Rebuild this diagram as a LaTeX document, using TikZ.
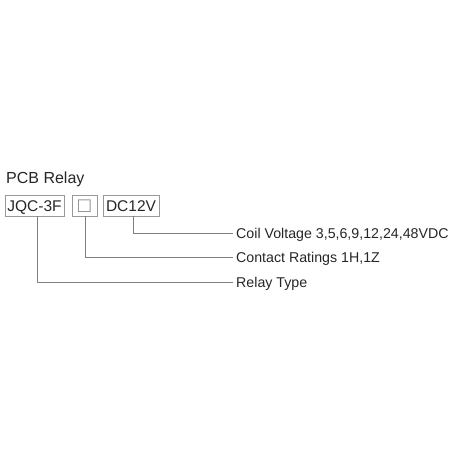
\documentclass[tikz,border=0pt]{standalone}
\usepackage{fontspec}
\setmainfont{Liberation Sans}
\newfontfamily\symfont{DejaVu Sans}
\usepackage{tikz}

\tikzset{
  partbox/.style={draw=black!40, line width=0.8pt, minimum height=21pt, inner sep=0pt,
    text height=11pt, text depth=0pt,
    text=black!85, font=\fontsize{15.5}{18}\selectfont},
  lead/.style={draw=black!50, line width=0.8pt},
  note/.style={anchor=west, inner sep=3pt, text height=10pt, text depth=0pt,
    text=black!85, font=\fontsize{14.2}{17}\selectfont}
}

\begin{document}
\begin{tikzpicture}[x=1pt,y=-1pt]
    \useasboundingbox (0,0) rectangle (455,455);
    \node[anchor=base west, inner sep=0pt, text=black!85, font=\fontsize{16}{19}\selectfont] (title) at (6,183) {PCB Relay};

    % the part number boxes
    \node[partbox, minimum width=59pt] (type) at (34.5,205.5) {JQC-3F};
    \node[partbox, minimum width=25pt, text height=10pt] (contact) at (84.5,205.5) {\symfont\color{black!45}\fontsize{16.5}{18}\selectfont □};
    \node[partbox, minimum width=56pt] (coil) at (131,205.5) {DC12V};

    % what each box means
    \node[note] (coilnote) at (233,233) {Coil Voltage 3,5,6,9,12,24,48VDC};
    \node[note] (contactnote) at (233,257.5) {Contact Ratings 1H,1Z};
    \node[note] (typenote) at (233,282) {Relay Type};

    \draw[lead] ([xshift=2pt]coil.south) |- (coilnote.west);
    \draw[lead] ([xshift=0.5pt]contact.south) |- (contactnote.west);
    \draw[lead] ([xshift=2.5pt]type.south) |- (typenote.west);
\end{tikzpicture}
\end{document}
